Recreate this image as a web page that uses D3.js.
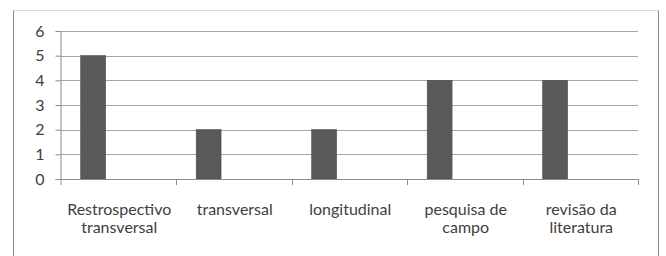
<!DOCTYPE html>
<html>
<head>
<meta charset="utf-8">
<script src="https://cdn.jsdelivr.net/npm/d3@7"></script>
<style>
  body { margin: 0; background: #fff; }
  svg { display: block; }
  .axis text { font-family: Lato, "Open Sans", sans-serif; font-size: 16px; fill: #404040; }
</style>
</head>
<body>
<div id="chart"></div>
<script>
const width = 666;
const height = 256;

const categories = [['Restrospectivo', 'transversal'], ['transversal'], ['longitudinal'], ['pesquisa de', 'campo'], ['revisão da', 'literatura']];
const values = [5, 2, 2, 4, 4];
const yTicks = [0, 1, 2, 3, 4, 5, 6];

const plot = { left: 60.5, right: 638, top: 31, bottom: 179 };

const svg = d3.select('#chart')
    .append('svg')
    .attr('width', width)
    .attr('height', height);

// outer frame
svg.append('line').attr('x1', 13.5).attr('x2', 13.5).attr('y1', 10).attr('y2', height)
    .attr('stroke', '#8c8c8c');
svg.append('line').attr('x1', 658.5).attr('x2', 658.5).attr('y1', 10).attr('y2', height)
    .attr('stroke', '#8c8c8c');
svg.append('line').attr('x1', 13.5).attr('x2', 658.5).attr('y1', 10.5).attr('y2', 10.5)
    .attr('stroke', '#d9d9d9');

const idx = categories.map((d, i) => i);

const xScale = d3.scaleBand()
    .domain(idx)
    .range([plot.left, plot.right]);

const yScale = d3.scaleLinear()
    .domain([0, 6])
    .range([plot.bottom, plot.top]);

// gridlines
svg.append('g')
    .selectAll('line')
    .data(yTicks.slice(1))
    .enter()
    .append('line')
    .attr('x1', plot.left)
    .attr('x2', plot.right)
    .attr('y1', d => Math.round(yScale(d)) + 0.5)
    .attr('y2', d => Math.round(yScale(d)) + 0.5)
    .attr('stroke', '#a6a6a6');

// bars (first slot of a 3-slot cluster)
const bw = xScale.bandwidth();
svg.append('g')
    .selectAll('rect')
    .data(values)
    .enter()
    .append('rect')
    .attr('x', (d, i) => xScale(i) + bw * 0.175)
    .attr('y', d => yScale(d))
    .attr('width', bw * 0.215)
    .attr('height', d => yScale(0) - yScale(d))
    .attr('fill', '#595959')
    .attr('stroke', '#4a4a4a')
    .attr('stroke-width', 0.6);

// y axis
const yAxis = d3.axisLeft(yScale)
    .tickValues(yTicks)
    .tickSize(5)
    .tickPadding(11)
    .tickFormat(d3.format('d'));
const yAxisG = svg.append('g')
    .attr('class', 'axis')
    .attr('transform', 'translate(' + plot.left + ',0)')
    .call(yAxis);
yAxisG.select('.domain').attr('stroke', '#8c8c8c').attr('d', 'M0.5,' + plot.top + 'V' + (plot.bottom + 6));
yAxisG.selectAll('.tick line').attr('stroke', '#8c8c8c');

// x axis: ticks at category boundaries
const xAxisG = svg.append('g')
    .attr('class', 'axis');
xAxisG.append('line')
    .attr('x1', plot.left - 5).attr('x2', plot.right)
    .attr('y1', plot.bottom + 0.5).attr('y2', plot.bottom + 0.5)
    .attr('stroke', '#8c8c8c');
xAxisG.selectAll('.xtick')
    .data(idx.slice(1).concat([idx.length]))
    .enter()
    .append('line')
    .attr('class', 'xtick')
    .attr('x1', d => Math.round(plot.left + d * bw) + 0.5)
    .attr('x2', d => Math.round(plot.left + d * bw) + 0.5)
    .attr('y1', plot.bottom)
    .attr('y2', plot.bottom + 6)
    .attr('stroke', '#8c8c8c');

const labels = xAxisG.selectAll('.xlabel')
    .data(categories)
    .enter()
    .append('text')
    .attr('class', 'xlabel')
    .attr('text-anchor', 'middle')
    .attr('x', (d, i) => xScale(i) + bw / 2 + 1)
    .attr('y', 215);
labels.selectAll('tspan')
    .data(d => d)
    .enter()
    .append('tspan')
    .attr('x', function () { return this.parentNode.getAttribute('x'); })
    .attr('dy', (d, i) => i === 0 ? 0 : 18)
    .text(d => d);
</script>
</body>
</html>
